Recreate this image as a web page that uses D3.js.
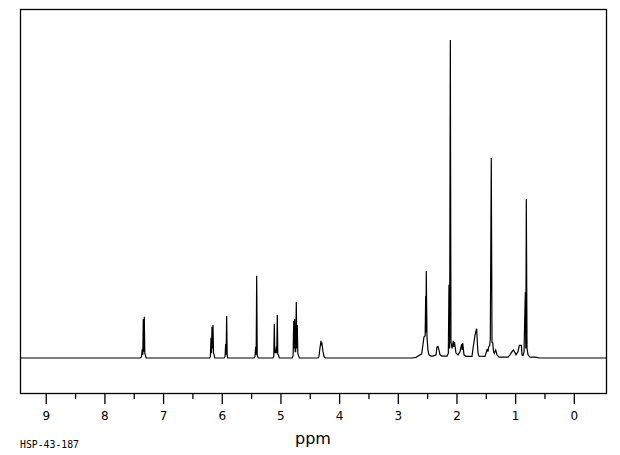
<!DOCTYPE html>
<html>
<head>
<meta charset="utf-8">
<script src="https://cdn.jsdelivr.net/npm/d3@7"></script>
<style>
  body { margin: 0; background: #fff; }
  svg { display: block; }
</style>
</head>
<body>
<div id="chart"></div>
<script>
// spectrum trace (ppm, intensity in % of tallest peak)
var shifts = [9.43,
  7.38, 7.36, 7.346, 7.337, 7.329, 7.321, 7.312, 7.303, 7.295, 7.28,
  6.20, 6.185, 6.175, 6.166, 6.158, 6.150, 6.141, 6.132, 6.124, 6.11,
  5.95, 5.935, 5.925, 5.917, 5.908, 5.899, 5.89,
  5.44, 5.425, 5.413, 5.405, 5.396, 5.387, 5.37,
  5.12, 5.105, 5.096, 5.088, 5.079, 5.070, 5.062, 5.054, 5.045, 5.036, 5.028, 5.01,
  4.79, 4.775, 4.766, 4.758, 4.749, 4.740, 4.732, 4.721, 4.713, 4.704, 4.695, 4.687, 4.67,
  4.35, 4.335, 4.318, 4.300, 4.292, 4.283, 4.266, 4.25, 4.23,
  2.75, 2.681, 2.584, 2.545, 2.525, 2.516, 2.511, 2.506, 2.494, 2.477, 2.460, 2.425, 2.391,
  2.340, 2.323, 2.306, 2.289, 2.272, 2.238, 2.153, 2.13, 2.119, 2.108, 2.096, 2.085, 2.067,
  2.045, 2.035, 2.025, 1.999, 1.965, 1.931, 1.902, 1.893, 1.885, 1.863, 1.829, 1.727,
  1.710, 1.693, 1.675, 1.658, 1.647, 1.633, 1.624, 1.607, 1.505, 1.488, 1.466, 1.455,
  1.442, 1.425, 1.415, 1.398, 1.386, 1.372, 1.360, 1.347, 1.323, 1.300, 1.266, 1.113,
  1.079, 1.045, 1.023, 1.002, 0.977, 0.943, 0.920, 0.903, 0.886, 0.874, 0.857, 0.840,
  0.818, 0.810, 0.801, 0.789, 0.772, 0.738, 0.65, 0.568, -0.557];

var intensity = [0,
  0, 0.3, 2.8, 1.0, 12.3, 2, 13.0, 1.5, 1.0, 0,
  0, 0.5, 6.4, 1.5, 9.8, 3, 10.4, 1.5, 1.2, 0,
  0, 0.5, 4.4, 1, 13.2, 0.8, 0,
  0, 0.5, 3.5, 1, 25.9, 0.8, 0,
  0, 0.5, 10.7, 1.5, 2.5, 1.5, 3.5, 1.5, 13.5, 1.2, 1, 0,
  0, 0.8, 11.6, 3, 12.3, 2, 2, 17.6, 3, 10.4, 1.5, 1.0, 0,
  0, 0.5, 3.1, 5.4, 4, 4.4, 2, 0.5, 0,
  0, 0.2, 1.3, 6.6, 7, 19.5, 8, 27.4, 6.6, 2.5, 1, 0.6, 0.6,
  1, 3.5, 3.6, 2.5, 1, 0.6, 0.6, 1.5, 23, 3, 100, 5, 3,
  5.4, 3.5, 5, 1.5, 1, 2, 4.4, 2.5, 4.7, 1, 0.5, 0.5,
  3, 5, 7.2, 8.5, 9.2, 4, 1.5, 0.6, 0.5, 1.5, 2.9, 2,
  3.5, 4, 6, 62.9, 5, 4.7, 2, 1.5, 2.5, 1, 0.3, 0.3,
  1, 2, 2.5, 2, 1, 2, 4, 4, 4, 1, 0.8, 2,
  20.7, 3, 50, 3, 1, 0.3, 0.3, 0, 0];

var majorTicks = [9, 8, 7, 6, 5, 4, 3, 2, 1, 0];
var minorTicks = [8.5, 7.5, 6.5, 5.5, 4.5, 3.5, 2.5, 1.5, 0.5];
var sampleId = "HSP-43-187";
var axisTitle = "ppm";

var svgWidth = 620;
var svgHeight = 455;

// frame of the plot
var frame = { left: 20, top: 9, right: 606, bottom: 393 };

var svg = d3.select("#chart")
  .append("svg")
  .attr("width", svgWidth)
  .attr("height", svgHeight);

var xScale = d3.scaleLinear()
  .domain([9.43, -0.557])
  .range([frame.left, frame.right]);

var yScale = d3.scaleLinear()
  .domain([-11, 109.75])
  .range([frame.bottom, frame.top]);

// frame
svg.append("rect")
  .attr("x", frame.left + 0.5)
  .attr("y", frame.top + 0.5)
  .attr("width", frame.right - frame.left)
  .attr("height", frame.bottom - frame.top)
  .attr("fill", "none")
  .attr("stroke", "#000")
  .attr("stroke-width", 1.3);

// minor ticks
var minorAxis = d3.axisBottom(xScale)
  .tickValues(minorTicks)
  .tickSize(6)
  .tickFormat("");
svg.append("g")
  .attr("transform", `translate(0.5, ${frame.bottom})`)
  .call(minorAxis)
  .call(g => g.select(".domain").remove())
  .call(g => g.selectAll("line").attr("stroke-width", 1.3));

// major ticks with labels
var majorAxis = d3.axisBottom(xScale)
  .tickValues(majorTicks)
  .tickSize(11)
  .tickPadding(7)
  .tickFormat(d3.format("d"));
svg.append("g")
  .attr("transform", `translate(0.5, ${frame.bottom})`)
  .call(majorAxis)
  .call(g => g.select(".domain").remove())
  .call(g => g.selectAll("line").attr("stroke-width", 1.3))
  .call(g => g.selectAll("text")
    .attr("font-family", "DejaVu Sans, sans-serif")
    .attr("font-size", 12)
    .attr("fill", "#000"));

// spectrum
var points = shifts.map((s, i) => [s, intensity[i]]);
var line = d3.line()
  .x(d => xScale(d[0]))
  .y(d => yScale(d[1]));

svg.append("path")
  .datum(points)
  .attr("d", line)
  .attr("fill", "none")
  .attr("stroke", "#000")
  .attr("stroke-width", 1.2)
  .attr("stroke-linejoin", "miter");

// x-axis title
svg.append("text")
  .attr("x", (frame.left + frame.right) / 2)
  .attr("y", 444)
  .attr("text-anchor", "middle")
  .attr("font-family", "DejaVu Sans, sans-serif")
  .attr("font-size", 16)
  .text(axisTitle);

// sample id
svg.append("text")
  .attr("x", 20)
  .attr("y", 447.5)
  .attr("font-family", "DejaVu Sans Mono, monospace")
  .attr("font-size", 9.8)
  .text(sampleId);
</script>
</body>
</html>
